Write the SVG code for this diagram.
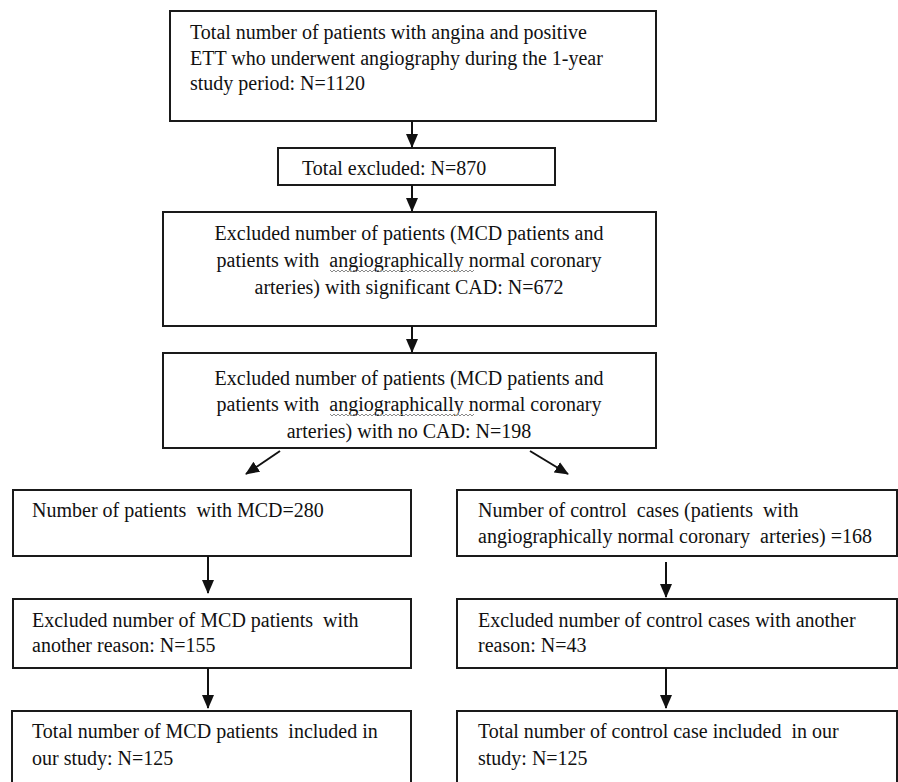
<svg xmlns="http://www.w3.org/2000/svg" width="898" height="782" viewBox="0 0 898 782">
<style>
.box{fill:#fff;stroke:#1a1a1a;stroke-width:2}
.t{font-family:"Liberation Serif","Times New Roman",serif;font-size:20px;fill:#111;white-space:pre}
.c{text-anchor:middle}
.conn line{stroke:#111;stroke-width:2;marker-end:url(#ah)}
.sq{fill:none;stroke:#8a8a8a;stroke-width:1}
</style>
<defs>
<marker id="ah" markerUnits="userSpaceOnUse" markerWidth="14" markerHeight="14" refX="13" refY="7" orient="auto" viewBox="0 0 14 14">
<path d="M0,1 L14,7 L0,13 z" fill="#111"/>
</marker>
<path id="wave" d="M0,0 l2,2 l2,-2 l2,2 l2,-2 l2,2 l2,-2 l2,2 l2,-2 l2,2 l2,-2 l2,2 l2,-2 l2,2 l2,-2 l2,2 l2,-2 l2,2 l2,-2 l2,2 l2,-2 l2,2 l2,-2 l2,2 l2,-2 l2,2 l2,-2 l2,2 l2,-2 l2,2 l2,-2 l2,2 l2,-2 l2,2 l2,-2 l2,2 l2,-2 l2,2 l2,-2 l2,2 l2,-2 l2,2 l2,-2 l2,2 l2,-2 l2,2 l2,-2 l2,2 l2,-2 l2,2 l2,-2 l2,2 l2,-2 l2,2 l2,-2 l2,2 l2,-2 l2,2 l2,-2 l2,2 l2,-2 l2,2 l2,-2 l2,2 l2,-2 l2,2 l2,-2 l2,2 l2,-2 l2,2 l2,-2 l2,2 l2,-2"/>
</defs>
<rect width="898" height="782" fill="#fff"/>
<g id="n1">
<rect class="box" x="170" y="11" width="486" height="110"/>
<text class="t" x="190" y="39">Total number of patients with angina and positive</text>
<text class="t" x="190" y="65">ETT who underwent angiography during the 1-year</text>
<text class="t" x="190" y="90">study period: N=1120</text>
</g>
<g id="n2">
<rect class="box" x="278" y="148" width="277" height="37"/>
<text class="t" x="302" y="175">Total excluded: N=870</text>
</g>
<g id="n3">
<rect class="box" x="163" y="212" width="493" height="114"/>
<text class="t c" x="409" y="240">Excluded number of patients (MCD patients and</text>
<text class="t c" x="409" y="267" xml:space="preserve">patients with  angiographically normal coronary</text>
<text class="t c" x="409" y="294">arteries) with significant CAD: N=672</text>
<use href="#wave" class="sq" x="330" y="270"/>
</g>
<g id="n4">
<rect class="box" x="163" y="353" width="493" height="95"/>
<text class="t c" x="409" y="385">Excluded number of patients (MCD patients and</text>
<text class="t c" x="409" y="411" xml:space="preserve">patients with  angiographically normal coronary</text>
<text class="t c" x="409" y="438">arteries) with no CAD: N=198</text>
<use href="#wave" class="sq" x="330" y="414"/>
</g>
<g id="n5">
<rect class="box" x="13" y="490" width="398" height="66"/>
<text class="t" x="32" y="517" xml:space="preserve">Number of patients  with MCD=280</text>
</g>
<g id="n6">
<rect class="box" x="457" y="490" width="440" height="66"/>
<text class="t" x="478" y="517" xml:space="preserve">Number of control  cases (patients  with</text>
<text class="t" x="478" y="543" xml:space="preserve">angiographically normal coronary  arteries) =168</text>
</g>
<g id="n7">
<rect class="box" x="13" y="599" width="398" height="69"/>
<text class="t" x="32" y="627" xml:space="preserve">Excluded number of MCD patients  with</text>
<text class="t" x="32" y="652">another reason: N=155</text>
</g>
<g id="n8">
<rect class="box" x="457" y="599" width="440" height="69"/>
<text class="t" x="478" y="627">Excluded number of control cases with another</text>
<text class="t" x="478" y="652">reason: N=43</text>
</g>
<g id="n9">
<rect class="box" x="12" y="711" width="399" height="80"/>
<text class="t" x="32" y="738" xml:space="preserve">Total number of MCD patients  included in</text>
<text class="t" x="32" y="765">our study: N=125</text>
</g>
<g id="n10">
<rect class="box" x="457" y="711" width="440" height="80"/>
<text class="t" x="478" y="738" xml:space="preserve">Total number of control case included  in our</text>
<text class="t" x="478" y="765">study: N=125</text>
</g>
<g class="conn" id="connectors">
<line x1="412" y1="121" x2="412" y2="147"/>
<line x1="412" y1="185" x2="412" y2="211"/>
<line x1="412" y1="326" x2="412" y2="352"/>
<line x1="280" y1="451" x2="246" y2="474"/>
<line x1="530" y1="451" x2="568" y2="474"/>
<line x1="208" y1="556" x2="208" y2="593"/>
<line x1="208" y1="668" x2="208" y2="708"/>
<line x1="666" y1="562" x2="666" y2="597"/>
<line x1="666" y1="668" x2="666" y2="708"/>
</g>
</svg>
